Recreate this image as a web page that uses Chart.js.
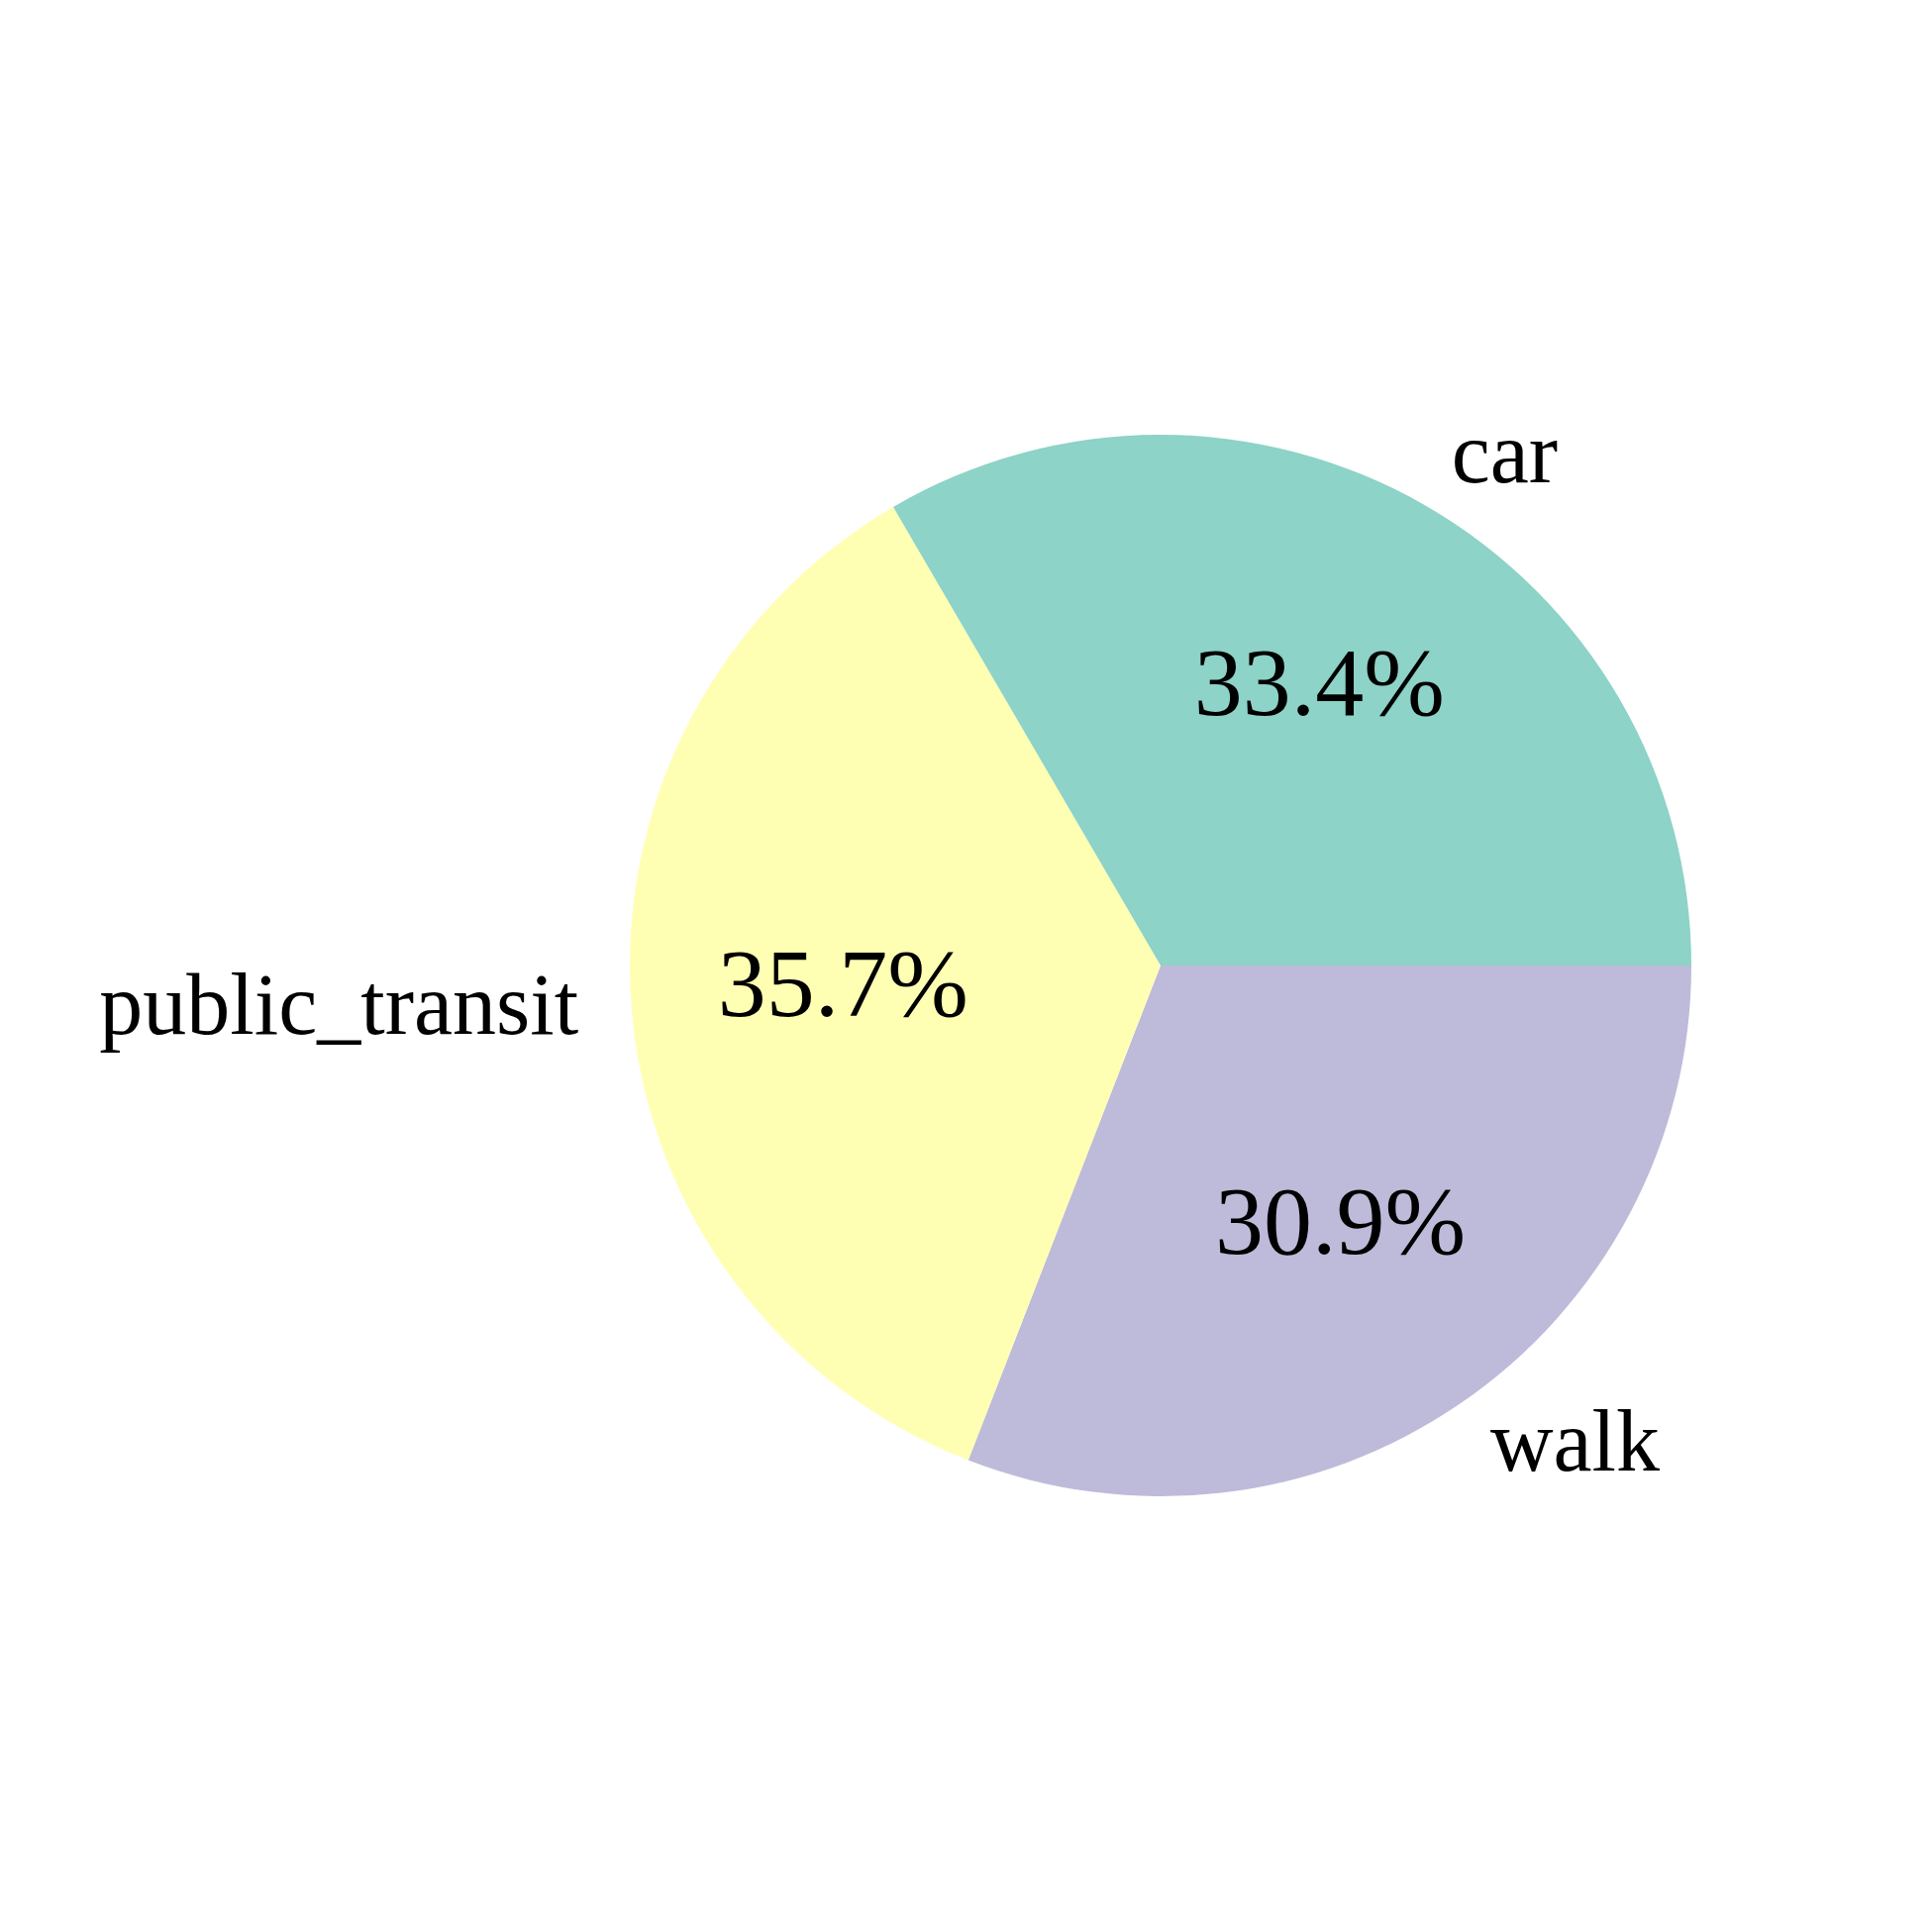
<!DOCTYPE html>
<html>
<head>
<meta charset="utf-8">
<script src="https://cdn.jsdelivr.net/npm/chart.js@4"></script>
<style>
  body { margin: 0; background: #fff; }
  #wrap { width: 1951px; height: 1951px; }
</style>
</head>
<body>
<div id="wrap"><canvas id="pieChart" width="1951" height="1951"></canvas></div>
<script>
// data, in the order matplotlib draws it (counter-clockwise from 3 o'clock)
const categories = ['car', 'public_transit', 'walk'];
const shares = [33.4, 35.7, 30.9];
const colors = ['#8dd3c7', '#ffffb3', '#bebada'];

// Chart.js goes clockwise, so flip the order to get the same picture
const order = [2, 1, 0];

const textFont = '"Liberation Serif", "DejaVu Serif", serif';

// draws outer category labels and the inner percent labels
const pieLabels = {
  id: 'pieLabels',
  afterDatasetsDraw(chart) {
    const ctx = chart.ctx;
    const arcs = chart.getDatasetMeta(0).data;
    ctx.save();
    ctx.fillStyle = '#000';
    arcs.forEach((arc, i) => {
      const idx = order[i];
      const mid = (arc.startAngle + arc.endAngle) / 2;
      const r = arc.outerRadius;
      const cos = Math.cos(mid), sin = Math.sin(mid);

      // category label at 1.1 r
      ctx.font = '88px ' + textFont;
      ctx.textBaseline = 'middle';
      ctx.textAlign = cos >= 0 ? 'left' : 'right';
      ctx.fillText(categories[idx], arc.x + 1.1 * r * cos, arc.y + 1.1 * r * sin);

      // percent at 0.6 r
      ctx.font = '98px ' + textFont;
      ctx.textAlign = 'center';
      ctx.fillText(shares[idx].toFixed(1) + '%', arc.x + 0.6 * r * cos, arc.y + 0.6 * r * sin);
    });
    ctx.restore();
  }
};

const ctx = document.getElementById('pieChart').getContext('2d');
new Chart(ctx, {
  type: 'pie',
  data: {
    labels: order.map(i => categories[i]),
    datasets: [{
      data: order.map(i => shares[i]),
      backgroundColor: order.map(i => colors[i]),
      borderWidth: 0,
      hoverOffset: 0,
      offset: 0
    }]
  },
  options: {
    responsive: false,
    animation: false,
    rotation: 90,
    layout: { padding: { left: 636, right: 243, top: 439, bottom: 440 } },
    plugins: {
      legend: { display: false },
      tooltip: { enabled: false }
    }
  },
  plugins: [pieLabels]
});
</script>
</body>
</html>
